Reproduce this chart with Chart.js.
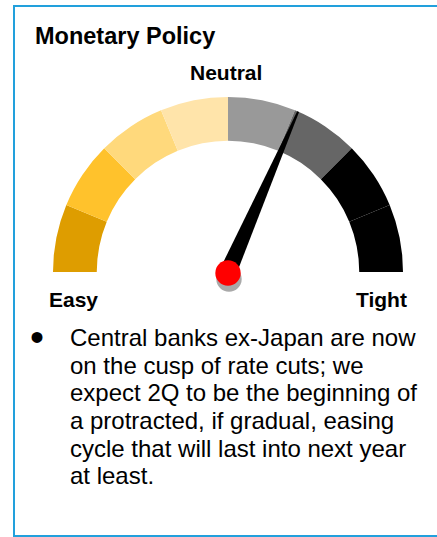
<!DOCTYPE html>
<html>
<head>
<meta charset="utf-8">
<script src="https://cdn.jsdelivr.net/npm/chart.js@4"></script>
<style>
  html, body { margin: 0; padding: 0; background: #fff; }
  body { width: 437px; height: 537px; overflow: hidden; position: relative; font-family: "Liberation Sans", Arial, sans-serif; color: #000; }
  .frame { position: absolute; left: 13px; top: 5px; width: 500px; height: 532px; box-sizing: border-box; border: 2px solid #22a0dc; }
  .txt { position: absolute; white-space: nowrap; line-height: 1; }
  .b { font-weight: bold; }
  #gaugeWrap { position: absolute; left: 43px; top: 87px; width: 370px; height: 215px; }
  .body { position: absolute; left: 70px; top: 324px; font-size: 24px; line-height: 27.66px; white-space: nowrap; }
  .bullet { position: absolute; left: 30px; font-size: 40px; line-height: 1; }
</style>
</head>
<body>
<div class="frame"></div>
<div class="txt b" style="left:35px; top:25px; font-size:23.5px;">Monetary Policy</div>
<div class="txt b" style="left:190px; top:62px; font-size:21px;">Neutral</div>
<div class="txt b" style="left:49px; top:289px; font-size:21px;">Easy</div>
<div class="txt b" style="left:356px; top:289px; font-size:21px;">Tight</div>
<div id="gaugeWrap"><canvas id="gaugeChart" width="370" height="215"></canvas></div>
<div class="bullet" style="top:317px;">•</div>
<div class="body" id="bodyText"></div>

<script>
// gauge zones, from easy (left) to tight (right)
const zoneLabels = ['Very easy', 'Easy', 'Somewhat easy', 'Slightly easy', 'Slightly tight', 'Somewhat tight', 'Tight', 'Very tight'];
const zoneValues = [1, 1, 1, 1, 1, 1, 1, 1];
const zoneColors = ['#de9d00', '#ffc22c', '#ffd97c', '#ffe4aa', '#999999', '#666666', '#000000', '#000000'];
const needleValue = 5.05; // position on the 0..8 scale

const bodyLines = [
    'Central banks ex-Japan are now',
    'on the cusp of rate cuts; we',
    'expect 2Q to be the beginning of',
    'a protracted, if gradual, easing',
    'cycle that will last into next year',
    'at least.'
];

document.getElementById('bodyText').innerHTML = bodyLines.join('<br>');

const needlePlugin = {
    id: 'needle',
    afterDatasetsDraw(chart) {
        const arcs = chart.getDatasetMeta(0).data;
        if (!arcs.length) return;
        const first = arcs[0];
        const last = arcs[arcs.length - 1];
        const cx = first.x;
        const cy = first.y;
        const r = first.outerRadius;
        const total = zoneValues.reduce((a, b) => a + b, 0);
        const start = first.startAngle;
        const end = last.endAngle;
        const angle = start + (needleValue / total) * (end - start);

        const ctx = chart.ctx;
        ctx.save();
        // needle
        const px = Math.cos(angle + Math.PI / 2);
        const py = Math.sin(angle + Math.PI / 2);
        const tx = cx + Math.cos(angle) * r;
        const ty = cy + Math.sin(angle) * r;
        ctx.beginPath();
        ctx.moveTo(cx + px * 8.5, cy + py * 8.5);
        ctx.lineTo(tx + px * 1, ty + py * 1);
        ctx.lineTo(tx - px * 1, ty - py * 1);
        ctx.lineTo(cx - px * 8.5, cy - py * 8.5);
        ctx.closePath();
        ctx.fillStyle = '#000';
        ctx.fill();

        // hub shadow
        ctx.beginPath();
        ctx.arc(cx + 1, cy + 7, 12.7, 0, Math.PI * 2);
        ctx.fillStyle = '#a9a9a9';
        ctx.fill();
        // hub
        ctx.beginPath();
        ctx.arc(cx, cy + 1, 12.7, 0, Math.PI * 2);
        ctx.fillStyle = '#ff0000';
        ctx.fill();
        ctx.restore();
    }
};

const ctx = document.getElementById('gaugeChart').getContext('2d');
new Chart(ctx, {
    type: 'doughnut',
    data: {
        labels: zoneLabels,
        datasets: [{
            data: zoneValues,
            backgroundColor: zoneColors,
            borderWidth: 0
        }]
    },
    options: {
        responsive: false,
        animation: false,
        events: [],
        rotation: -90,
        circumference: 180,
        cutout: '75%',
        layout: {
            padding: { left: 10, right: 10, top: 10, bottom: 30 }
        },
        plugins: {
            legend: { display: false },
            tooltip: { enabled: false },
            title: { display: false }
        }
    },
    plugins: [needlePlugin]
});
</script>
</body>
</html>
